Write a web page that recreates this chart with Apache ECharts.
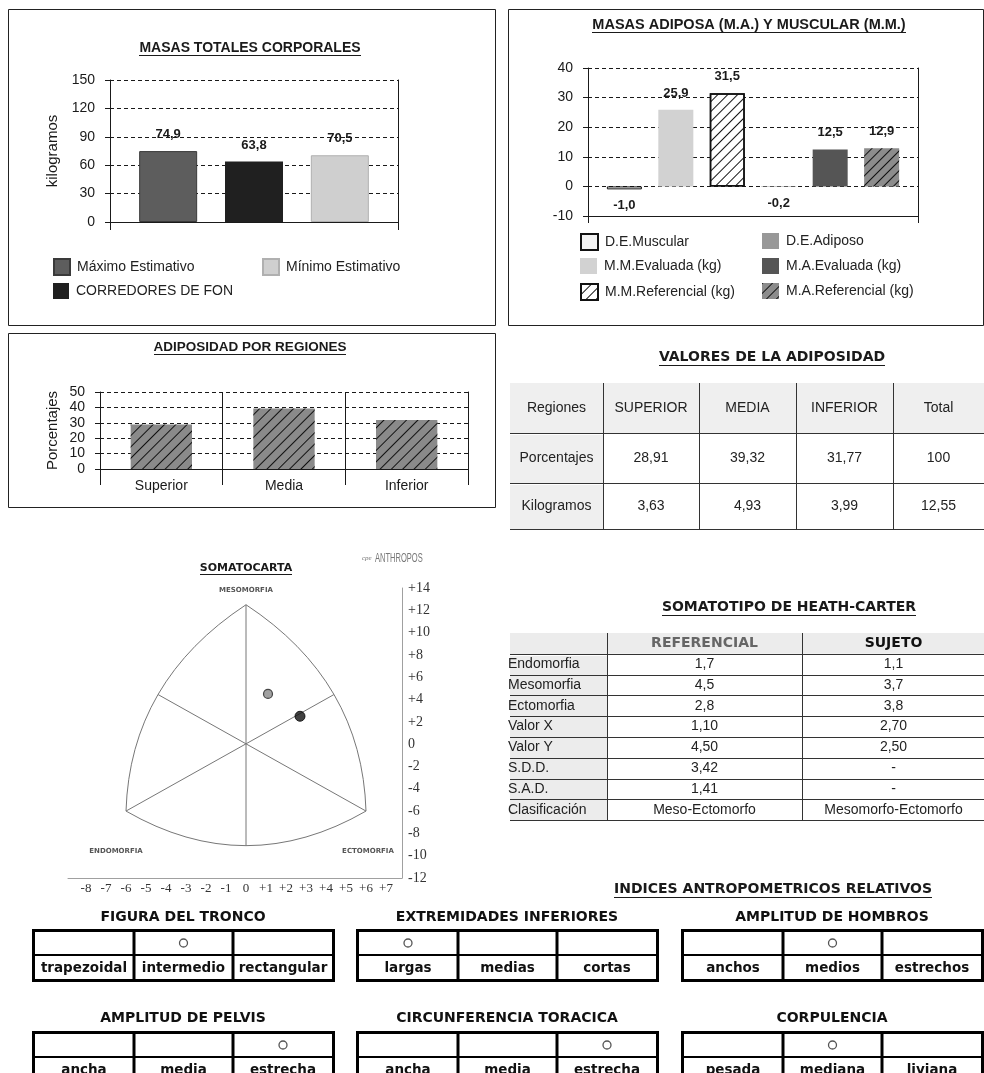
<!DOCTYPE html>
<html>
<head>
<meta charset="utf-8">
<title>Informe antropométrico</title>
<script src="https://cdn.jsdelivr.net/npm/echarts@6/dist/echarts.min.js"></script>
<style>
  html, body { margin: 0; padding: 0; background: #ffffff; }
  #page { width: 984px; height: 1073px; }
</style>
</head>
<body>
<div id="page"></div>
<script>
// ---- Masas totales corporales ----
const totalMassNames = ['Máximo Estimativo', 'CORREDORES DE FON', 'Mínimo Estimativo'];
const totalMassValues = [74.9, 63.8, 70.5];

// ---- Masas adiposa y muscular ----
const compNames = ['D.E.Muscular', 'M.M.Evaluada (kg)', 'M.M.Referencial (kg)',
                   'D.E.Adiposo', 'M.A.Evaluada (kg)', 'M.A.Referencial (kg)'];
const compValues = [-1.0, 25.9, 31.5, -0.2, 12.5, 12.9];

// ---- Adiposidad por regiones ----
const regionNames = ['Superior', 'Media', 'Inferior'];
const regionHeaders = ['SUPERIOR', 'MEDIA', 'INFERIOR'];
const regionPercent = [28.91, 39.32, 31.77];
const regionKg = [3.63, 4.93, 3.99];
const regionPercentTotal = 100;
const regionKgTotal = 12.55;

// ---- Somatotipo de Heath-Carter ----
const somaRowNames = ['Endomorfia', 'Mesomorfia', 'Ectomorfia', 'Valor X', 'Valor Y', 'S.D.D.', 'S.A.D.', 'Clasificación'];
const refComponents = [1.7, 4.5, 2.8];
const subjComponents = [1.1, 3.7, 3.8];
const refXY = [1.10, 4.50];
const subjXY = [2.70, 2.50];
const refSDD = 3.42;
const refSAD = 1.41;
const refClass = 'Meso-Ectomorfo';
const subjClass = 'Mesomorfo-Ectomorfo';

// Somatocarta frame: vertices (meso, endo, ecto) and arc mid points
const somaVertices = [[0, 12.5], [-6, -6], [6, -6]];
const somaArcMids = [[-4.4, 4.45], [4.4, 4.45], [0, -9.1]];
const somaXTicks = [-8, -7, -6, -5, -4, -3, -2, -1, 0, 1, 2, 3, 4, 5, 6, 7];

// ---- Indices antropometricos relativos ----
const indexTitles = ['FIGURA DEL TRONCO', 'EXTREMIDADES INFERIORES', 'AMPLITUD DE HOMBROS',
                     'AMPLITUD DE PELVIS', 'CIRCUNFERENCIA TORACICA', 'CORPULENCIA'];
const indexOptions = [
  ['trapezoidal', 'intermedio', 'rectangular'],
  ['largas', 'medias', 'cortas'],
  ['anchos', 'medios', 'estrechos'],
  ['ancha', 'media', 'estrecha'],
  ['ancha', 'media', 'estrecha'],
  ['pesada', 'mediana', 'liviana']
];
const indexSelected = [1, 0, 1, 2, 2, 1];

// ---------------------------------------------------------------------
const ink = '#1a1a1a';
const SANS = '"Liberation Sans", Arial, sans-serif';
const WIDE = '"DejaVu Sans", Verdana, sans-serif';
const SERIF = '"Liberation Serif", "Times New Roman", serif';

function fmt(v, d) { return v.toFixed(d).replace('.', ','); }
function signed(v) { return v > 0 ? '+' + v : String(v); }

const measureCtx = document.createElement('canvas').getContext('2d');
function textWidth(str, font) { measureCtx.font = font; return measureCtx.measureText(str).width; }

const gfx = [];
function txt(x, y, str, font, opts) {
  opts = opts || {};
  gfx.push({
    type: 'text', x: x, y: y, silent: true, z: 10,
    scaleX: opts.scaleX || 1,
    style: { text: str, font: font, fill: opts.fill || ink,
             align: opts.align || 'center', verticalAlign: 'middle' }
  });
}
function seg(x1, y1, x2, y2, w, color) {
  gfx.push({ type: 'line', silent: true, z: 9,
    shape: { x1: x1, y1: y1, x2: x2, y2: y2 },
    style: { stroke: color || ink, lineWidth: w || 1 } });
}
function box(x, y, w, h, fill, stroke, lw) {
  gfx.push({ type: 'rect', silent: true, z: 8,
    shape: { x: x, y: y, width: w, height: h },
    style: { fill: fill || 'none', stroke: stroke || null, lineWidth: lw || 0 } });
}
function title(cx, cy, str, font, underlineGap) {
  txt(cx, cy, str, font);
  const w = textWidth(str, font);
  seg(Math.round(cx - w / 2), cy + underlineGap + 0.5, Math.round(cx + w / 2), cy + underlineGap + 0.5, 1);
}

// Panel frames
box(8.5, 9.5, 487, 316, 'none', '#222', 1);
box(508.5, 9.5, 475, 316, 'none', '#222', 1);
box(8.5, 333.5, 487, 174, 'none', '#222', 1);

// Panel titles
title(250, 48, 'MASAS TOTALES CORPORALES', 'bold 14px ' + SANS, 7);
title(749, 25, 'MASAS ADIPOSA (M.A.) Y MUSCULAR (M.M.)', 'bold 14.5px ' + SANS, 7);
title(250, 347, 'ADIPOSIDAD POR REGIONES', 'bold 13.5px ' + SANS, 7);

// ---- Tabla: valores de la adiposidad ----
(function () {
  const cols = [510, 603, 699, 796, 893, 984];
  const rows = [383, 433, 483, 529];
  title(772, 357, 'VALORES DE LA ADIPOSIDAD', 'bold 14px ' + WIDE, 8);
  box(cols[0], rows[0], cols[5] - cols[0], rows[3] - rows[0], '#efefef');
  box(cols[1], rows[1], cols[5] - cols[1], rows[3] - rows[1], '#ffffff');
  [rows[1], rows[2], rows[3]].forEach(function (y) { seg(cols[0], y + 0.5, cols[5], y + 0.5, 1, '#333'); });
  [rows[1], rows[2]].forEach(function (y) { seg(cols[0], y + 1.5, cols[5], y + 1.5, 1, '#ffffff'); });
  cols.slice(1, 5).forEach(function (x) { seg(x + 0.5, rows[0], x + 0.5, rows[3], 1, '#333'); });
  const f = '14px ' + SANS;
  const header = ['Regiones'].concat(regionHeaders, ['Total']);
  const pctRow = ['Porcentajes'].concat(regionPercent.map(function (v) { return fmt(v, 2); }), [String(regionPercentTotal)]);
  const kgRow = ['Kilogramos'].concat(regionKg.map(function (v) { return fmt(v, 2); }), [fmt(regionKgTotal, 2)]);
  [header, pctRow, kgRow].forEach(function (r, ri) {
    const cy = (rows[ri] + rows[ri + 1]) / 2;
    r.forEach(function (s, ci) { txt((cols[ci] + cols[ci + 1]) / 2, cy, s, f, { fill: '#222' }); });
  });
})();

// ---- Tabla: somatotipo de Heath-Carter ----
(function () {
  const cols = [510, 607, 802, 985];
  const top = 633, rh = 20.8, n = somaRowNames.length + 1;
  const bottom = top + rh * n;
  title(789, 607, 'SOMATOTIPO DE HEATH-CARTER', 'bold 14px ' + WIDE, 8);
  box(cols[0], top, cols[3] - cols[0], bottom - top, '#ececec');
  box(cols[1], top + rh, cols[3] - cols[1], bottom - top - rh, '#ffffff');
  for (let i = 1; i <= n; i++) {
    const y = Math.round(top + rh * i) + 0.5;
    seg(cols[0], y, cols[3], y, 1, '#333');
  }
  seg(cols[0], Math.round(top + rh) + 1.5, cols[3], Math.round(top + rh) + 1.5, 1, '#ffffff');
  [cols[1], cols[2]].forEach(function (x) { seg(x + 0.5, top, x + 0.5, bottom, 1, '#333'); });
  txt((cols[1] + cols[2]) / 2, top + rh / 2, 'REFERENCIAL', 'bold 14px ' + WIDE, { fill: '#666' });
  txt((cols[2] + cols[3]) / 2, top + rh / 2, 'SUJETO', 'bold 14px ' + WIDE, { fill: '#111' });
  const refCol = refComponents.map(function (v) { return fmt(v, 1); })
    .concat([fmt(refXY[0], 2), fmt(refXY[1], 2), fmt(refSDD, 2), fmt(refSAD, 2), refClass]);
  const subjCol = subjComponents.map(function (v) { return fmt(v, 1); })
    .concat([fmt(subjXY[0], 2), fmt(subjXY[1], 2), '-', '-', subjClass]);
  const f = '14px ' + SANS;
  somaRowNames.forEach(function (name, i) {
    const cy = top + rh * (i + 1.5);
    txt(cols[0] - 2, cy, name, f, { align: 'left', fill: '#222' });
    txt((cols[1] + cols[2]) / 2, cy, refCol[i], f, { fill: '#222' });
    txt((cols[2] + cols[3]) / 2, cy, subjCol[i], f, { fill: '#222' });
  });
})();

// ---- Somatocarta: rotulos ----
title(246, 568, 'SOMATOCARTA', 'bold 11px ' + WIDE, 6);
txt(246, 590, 'MESOMORFIA', 'bold 7px ' + WIDE, { fill: '#555' });
txt(116, 851, 'ENDOMORFIA', 'bold 7px ' + WIDE, { fill: '#555' });
txt(368, 851, 'ECTOMORFIA', 'bold 7px ' + WIDE, { fill: '#555' });
txt(362, 558, 'cpe', 'italic 7px ' + SERIF, { fill: '#777', align: 'left' });
txt(375, 558, 'ANTHROPOS', '13px ' + SANS, { fill: '#777', align: 'left', scaleX: 0.58 });

// ---- Indices antropometricos relativos ----
title(773, 889, 'INDICES ANTROPOMETRICOS RELATIVOS', 'bold 14px ' + WIDE, 8);
(function () {
  const xs = [33, 357, 682];
  const titleY = [917, 1018];
  const tops = [930, 1032];
  indexTitles.forEach(function (t, i) {
    const c = i % 3, r = Math.floor(i / 3);
    const x0 = xs[c], y0 = tops[r];
    txt(x0 + 150, titleY[r], t, 'bold 14px ' + WIDE, { fill: '#111' });
    box(x0 + 0.5, y0 + 0.5, 300, 50, '#ffffff', '#000', 3);
    seg(x0, y0 + 25, x0 + 300, y0 + 25, 2, '#000');
    seg(x0 + 101, y0, x0 + 101, y0 + 50, 3, '#000');
    seg(x0 + 200, y0, x0 + 200, y0 + 50, 3, '#000');
    indexOptions[i].forEach(function (o, j) {
      txt(x0 + 51 + 99.5 * j, y0 + 38, o, 'bold 13.5px ' + WIDE, { fill: '#111' });
    });
    gfx.push({ type: 'circle', silent: true, z: 11,
      shape: { cx: x0 + 51 + 99.5 * indexSelected[i], cy: y0 + 13, r: 4 },
      style: { fill: '#ffffff', stroke: '#555', lineWidth: 1.3 } });
  });
})();

// ---------------------------------------------------------------------
const dashedGrid = { show: true, lineStyle: { color: ink, width: 1, type: [4, 3] } };
const tickLabel = { color: ink, fontFamily: SANS, fontSize: 14, margin: 15 };
const barLabel = { show: true, position: 'top', distance: 10, color: ink,
                   fontFamily: SANS, fontWeight: 'bold', fontSize: 13,
                   formatter: function (p) { return fmt(p.value, 1); } };
// diagonal "/" hatching
function hatch(gap) {
  return { symbol: 'rect', symbolSize: 1, dashArrayX: [1, 0], dashArrayY: [1, gap],
           rotation: -Math.PI / 4, color: '#111' };
}
function edgeAxis(gridIndex, min, max) {
  return { gridIndex: gridIndex, type: 'value', position: 'right', min: min, max: max,
           axisLine: { show: true, lineStyle: { color: ink } }, axisTick: { show: false },
           axisLabel: { show: false }, splitLine: { show: false } };
}

const totalStyles = [
  { color: '#5d5d5d', borderColor: '#3a3a3a', borderWidth: 1 },
  { color: '#202020' },
  { color: '#cfcfcf', borderColor: '#b0b0b0', borderWidth: 1 }
];
const compStyles = [
  { color: '#f2f2f2', borderColor: '#111', borderWidth: 1 },
  { color: '#d2d2d2' },
  { color: '#ffffff', borderColor: '#111', borderWidth: 1.5, decal: hatch(6) },
  { color: '#989898' },
  { color: '#555555' },
  { color: '#8c8c8c', decal: hatch(6) }
];

const series = [];
totalMassNames.forEach(function (name, i) {
  series.push({ type: 'bar', name: name, xAxisIndex: 0, yAxisIndex: 0,
    data: [totalMassValues[i]], barWidth: 58, barGap: '48%',
    itemStyle: totalStyles[i], label: barLabel, silent: true });
});
compNames.forEach(function (name, i) {
  const v = compValues[i];
  series.push({ type: 'bar', name: name, xAxisIndex: 1, yAxisIndex: 2,
    data: [v], barWidth: 35, barGap: '47%',
    itemStyle: compStyles[i],
    label: Object.assign({}, barLabel, { position: v < 0 ? 'bottom' : 'top' }), silent: true });
});
series.push({ type: 'bar', name: 'Adiposidad', xAxisIndex: 2, yAxisIndex: 4,
  data: regionPercent, barWidth: '50%',
  itemStyle: { color: '#8a8a8a', decal: hatch(7) }, silent: true });

// Somatocarta: frame drawn from the vertex / arc-midpoint coordinates
series.push({
  type: 'custom', xAxisIndex: 3, yAxisIndex: 6, silent: true, z: 2,
  data: [[0, 0]],
  renderItem: function (params, api) {
    const P = somaVertices.map(function (p) { return api.coord(p); });
    const M = somaArcMids.map(function (p) { return api.coord(p); });
    function arc(a, m, b) {
      return { type: 'bezierCurve',
        shape: { x1: a[0], y1: a[1], x2: b[0], y2: b[1],
                 cpx1: 2 * m[0] - (a[0] + b[0]) / 2, cpy1: 2 * m[1] - (a[1] + b[1]) / 2 },
        style: { fill: null, stroke: '#777', lineWidth: 1 } };
    }
    function ln(a, b) {
      return { type: 'line', shape: { x1: a[0], y1: a[1], x2: b[0], y2: b[1] },
               style: { stroke: '#777', lineWidth: 1 } };
    }
    return { type: 'group', children: [
      arc(P[0], M[0], P[1]), arc(P[0], M[1], P[2]), arc(P[1], M[2], P[2]),
      ln(P[0], M[2]), ln(M[0], P[2]), ln(M[1], P[1])
    ] };
  }
});
series.push({ type: 'scatter', name: 'Referencial', xAxisIndex: 3, yAxisIndex: 6, silent: true, z: 5,
  data: [refXY], symbolSize: 9, itemStyle: { color: '#8a8a8a', borderColor: '#222', borderWidth: 1.2 } });
series.push({ type: 'scatter', name: 'Sujeto', xAxisIndex: 3, yAxisIndex: 6, silent: true, z: 5,
  data: [subjXY], symbolSize: 10, itemStyle: { color: '#111', borderColor: '#000', borderWidth: 1 } });

function legendAt(name, left, top, w, h) {
  return { data: [name], left: left, top: top, padding: 0, itemWidth: w, itemHeight: h,
           icon: 'rect', selectedMode: false, itemGap: 0,
           textStyle: { color: '#222', fontFamily: SANS, fontSize: 14, padding: [0, 0, 0, 2] } };
}

const option = {
  animation: false,
  backgroundColor: '#ffffff',
  grid: [
    { left: 110, top: 80, width: 288, height: 142, outerBoundsMode: 'none' },
    { left: 588, top: 68, width: 330, height: 148, outerBoundsMode: 'none' },
    { left: 100, top: 392, width: 368, height: 77, outerBoundsMode: 'none' },
    { left: 68, top: 588, width: 334, height: 290, outerBoundsMode: 'none' }
  ],
  xAxis: [
    { gridIndex: 0, type: 'category', data: ['Masas'],
      axisLine: { onZero: false, lineStyle: { color: ink } },
      axisTick: { show: true, length: 8, lineStyle: { color: ink } },
      axisLabel: { show: false }, splitLine: { show: false } },
    { gridIndex: 1, type: 'category', data: ['Masas'],
      axisLine: { onZero: false, lineStyle: { color: ink } },
      axisTick: { show: true, length: 7, lineStyle: { color: ink } },
      axisLabel: { show: false }, splitLine: { show: false } },
    { gridIndex: 2, type: 'category', data: regionNames,
      axisLine: { onZero: false, lineStyle: { color: ink } },
      axisTick: { show: true, length: 16, lineStyle: { color: ink } },
      axisLabel: Object.assign({}, tickLabel, { margin: 10 }),
      splitLine: { show: true, lineStyle: { color: ink, width: 1 } } },
    { gridIndex: 3, type: 'value', min: -8.9, max: 7.8,
      axisLine: { show: true, onZero: false, lineStyle: { color: '#a0a0a0' } },
      axisTick: { show: false }, splitLine: { show: false },
      axisLabel: { customValues: somaXTicks, formatter: signed, margin: 4,
                   color: '#333', fontFamily: SERIF, fontSize: 13 } }
  ],
  yAxis: [
    { gridIndex: 0, type: 'value', min: 0, max: 150, interval: 30,
      name: 'kilogramos', nameLocation: 'middle', nameRotate: 90, nameGap: 50,
      nameTextStyle: { color: ink, fontFamily: SANS, fontSize: 15 },
      axisLine: { show: true, lineStyle: { color: ink } },
      axisTick: { show: true, length: 5, lineStyle: { color: ink } },
      axisLabel: tickLabel, splitLine: dashedGrid },
    edgeAxis(0, 0, 150),
    { gridIndex: 1, type: 'value', min: -10, max: 40, interval: 10,
      axisLine: { show: true, lineStyle: { color: ink } },
      axisTick: { show: true, length: 5, lineStyle: { color: ink } },
      axisLabel: tickLabel, splitLine: dashedGrid },
    edgeAxis(1, -10, 40),
    { gridIndex: 2, type: 'value', min: 0, max: 50, interval: 10,
      name: 'Porcentajes', nameLocation: 'middle', nameRotate: 90, nameGap: 40,
      nameTextStyle: { color: ink, fontFamily: SANS, fontSize: 15 },
      axisLine: { show: true, lineStyle: { color: ink } },
      axisTick: { show: true, length: 5, lineStyle: { color: ink } },
      axisLabel: tickLabel, splitLine: dashedGrid },
    edgeAxis(2, 0, 50),
    { gridIndex: 3, type: 'value', position: 'right', min: -12, max: 14, interval: 2,
      axisLine: { show: true, onZero: false, lineStyle: { color: '#a0a0a0' } },
      axisTick: { show: false }, splitLine: { show: false },
      axisLabel: { formatter: signed, margin: 6, color: '#333', fontFamily: SERIF, fontSize: 14 } }
  ],
  legend: [
    legendAt(totalMassNames[0], 53, 258, 16, 16),
    legendAt(totalMassNames[2], 262, 258, 16, 16),
    legendAt(totalMassNames[1], 53, 283, 16, 16),
    legendAt(compNames[0], 580, 233, 17, 16),
    legendAt(compNames[3], 762, 233, 17, 16),
    legendAt(compNames[1], 580, 258, 17, 16),
    legendAt(compNames[4], 762, 258, 17, 16),
    legendAt(compNames[2], 580, 283, 17, 16),
    legendAt(compNames[5], 762, 283, 17, 16)
  ],
  series: series,
  graphic: { elements: gfx }
};

const chart = echarts.init(document.getElementById('page'), null, { renderer: 'canvas' });
chart.setOption(option);
</script>
</body>
</html>
